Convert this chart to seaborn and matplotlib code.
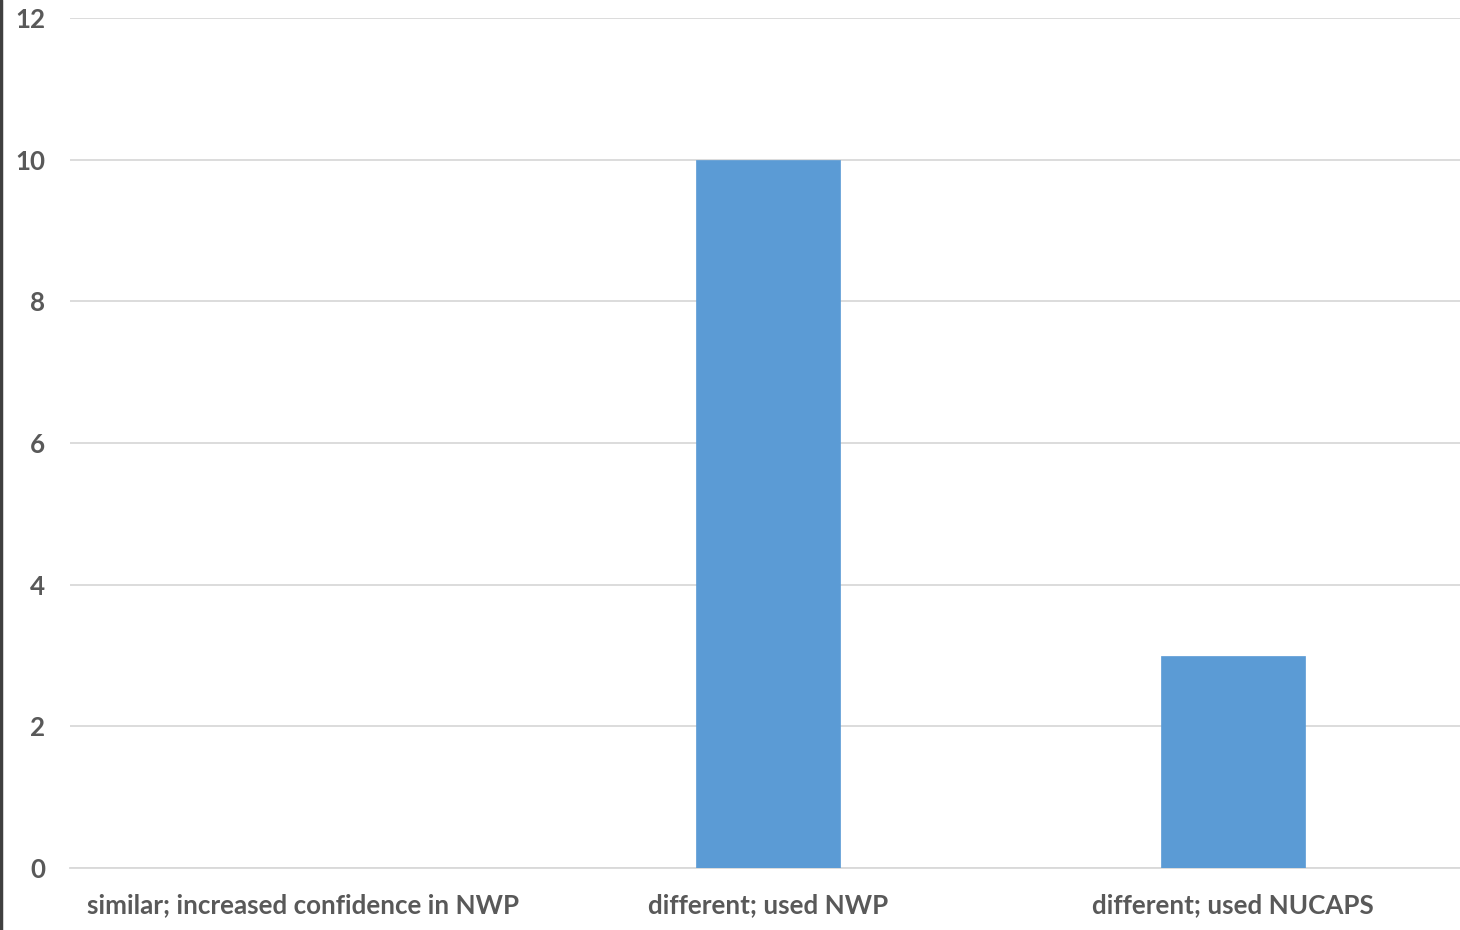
import matplotlib
matplotlib.use("Agg")
import matplotlib.pyplot as plt
from matplotlib.lines import Line2D
import seaborn as sns
import pandas as pd

categories = ["similar; increased confidence in NWP", "different; used NWP", "different; used NUCAPS"]
counts = [0, 10, 3]
y_ticks = [0, 2, 4, 6, 8, 10, 12]

sns.set_style("white")
plt.rcParams["font.family"] = ["Lato", "DejaVu Sans"]

df = pd.DataFrame({"category": categories, "count": counts})

fig = plt.figure(figsize=(14.6, 9.3), dpi=100)
ax = fig.add_axes([70 / 1460, 1 - 868 / 930, 1 - 70 / 1460, (868 - 18) / 930])

sns.barplot(data=df, x="category", y="count", color="#5B9BD5", saturation=1,
            width=0.31, ax=ax, zorder=3, edgecolor="#5B9BD5", linewidth=0.5)

ax.set_ylim(0, 12)
ax.set_xlim(-0.5, (1460 - 70.5) / 465 - 0.5)
ax.set_yticks(y_ticks)
ax.yaxis.grid(True, color="#D9D9D9", linewidth=1.3, zorder=0)
ax.set_axisbelow(True)
for s in ["top", "right", "left"]:
    ax.spines[s].set_visible(False)
ax.spines["bottom"].set_color("#D9D9D9")
ax.spines["bottom"].set_linewidth(1.3)

ax.tick_params(axis="both", length=0, labelsize=18.7, labelcolor="#595959")
ax.tick_params(axis="y", pad=18)
ax.tick_params(axis="x", pad=18)
for lbl in ax.get_xticklabels() + ax.get_yticklabels():
    lbl.set_fontweight("bold")
ax.set_xlabel("")
ax.set_ylabel("")

fig.add_artist(Line2D([0.001, 0.001], [0, 1], transform=fig.transFigure,
                      color="#404040", linewidth=2.5))

fig.savefig("out.png", dpi=100)
